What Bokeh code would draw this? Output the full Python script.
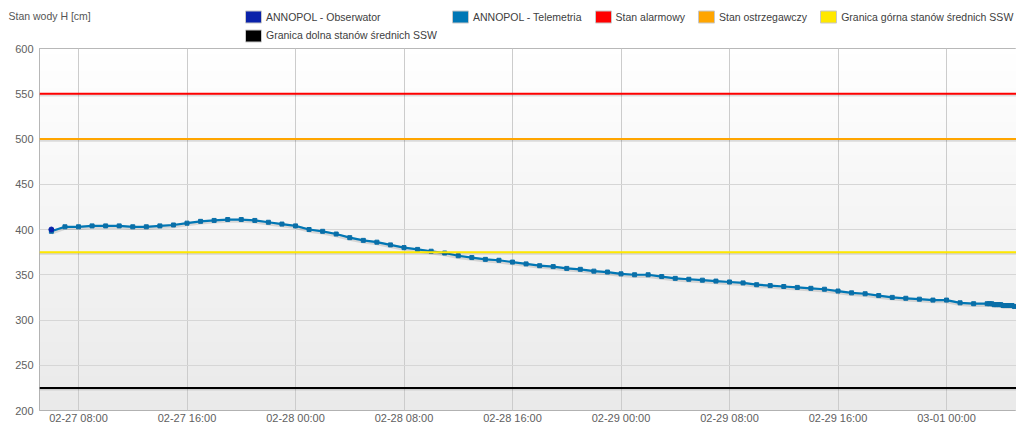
import numpy as np
import pandas as pd
from bokeh.plotting import figure
from bokeh.models import (Range1d, FixedTicker, DatetimeTickFormatter, Legend,
                          LegendItem, Label, Span, ColumnDataSource)
from bokeh.transform import dodge
from bokeh.embed import file_html
from bokeh.resources import INLINE

# ---------------- data ----------------
y_title = "Stan wody H [cm]"

tele_hourly_start = "2024-02-27 06:00"
tele_hourly_vals = [
    398, 403, 403, 404, 404, 404, 403, 403, 404, 405, 407, 409, 410, 411, 411, 410, 408, 406,
    404, 400, 398, 395, 391, 388, 386, 383, 380, 378, 376, 374, 371, 369, 367, 366, 364, 362,
    360, 359, 357, 356, 354, 353,
    351, 350, 350, 348, 346, 345, 344, 343, 342, 341, 339, 338, 337, 336, 335, 334, 332, 330,
    329, 327, 325, 324, 323, 322,
    322, 319, 318, 318,
]
tele_tail_start = "2024-03-01 03:10"
tele_tail_vals = [318, 318, 317, 317, 317, 317, 316, 316, 316, 316, 316, 315]

obs_times = ["2024-02-27 06:00"]
obs_vals = [400]

stan_alarmowy = 550
stan_ostrzegawczy = 500
ssw_gorna = 375
ssw_dolna = 225

series_names = ["ANNOPOL - Obserwator", "ANNOPOL - Telemetria", "Stan alarmowy",
                "Stan ostrzegawczy", "Granica górna stanów średnich SSW",
                "Granica dolna stanów średnich SSW"]
series_colors = ["#0a22aa", "#0077b5", "#ff0000", "#ffa500", "#ffe800", "#000000"]

x_ticks = ["2024-02-27 08:00", "2024-02-27 16:00", "2024-02-28 00:00", "2024-02-28 08:00",
           "2024-02-28 16:00", "2024-02-29 00:00", "2024-02-29 08:00", "2024-02-29 16:00",
           "2024-03-01 00:00"]
y_ticks = [200, 250, 300, 350, 400, 450, 500, 550, 600]

x_start = "2024-02-27 05:07:26"
x_end = "2024-03-01 05:09:40"

# ---------------- build ----------------
FONT = "Liberation Sans"
W = 1016
TOP_H = 43
MAIN_H = 383

tele_t = list(pd.date_range(tele_hourly_start, periods=len(tele_hourly_vals), freq="h")) + \
         list(pd.date_range(tele_tail_start, periods=len(tele_tail_vals), freq="10min"))
tele_v = tele_hourly_vals + tele_tail_vals
tele_src = ColumnDataSource(dict(t=tele_t, v=tele_v))
obs_src = ColumnDataSource(dict(t=pd.to_datetime(obs_times), v=obs_vals))

x0 = pd.Timestamp(x_start)
x1 = pd.Timestamp(x_end)

# ---- header figure: title + legend ----
top = figure(width=W, height=TOP_H, x_range=Range1d(0, 1), y_range=Range1d(0, 1),
             x_axis_location=None, y_axis_location=None, output_backend="svg",
             toolbar_location=None, min_border=0, title=None)
top.outline_line_color = None
top.grid.visible = False
top.background_fill_color = "white"
top.border_fill_color = "white"

sw = []
for c in series_colors:
    # legend-only renderers: one NaN row so that the legend swatch is drawn
    sw.append(top.quad(left=[np.nan], right=[np.nan], top=[np.nan], bottom=[np.nan],
                       fill_color=c, line_color="#c8c8c8", line_width=1))


def mk_legend(idx, loc):
    lg = Legend(items=[LegendItem(label=series_names[i], renderers=[sw[i]]) for i in idx],
                location=loc, orientation="horizontal")
    lg.glyph_width = 20
    lg.glyph_height = 15
    lg.label_height = 14
    lg.label_standoff = 3
    lg.spacing = 11
    lg.padding = 0
    lg.margin = 0
    lg.border_line_color = None
    lg.background_fill_alpha = 0
    lg.label_text_font = FONT
    lg.label_text_font_size = "10.5px"
    lg.label_text_color = "#404040"
    return lg


top.add_layout(mk_legend([0], (243, 18.7)))
top.add_layout(mk_legend([1, 2, 3, 4], (450, 18.7)))
top.add_layout(mk_legend([5], (243, 0.2)))
top.add_layout(Label(x=8, y=TOP_H - 15, x_units="screen", y_units="screen", text=y_title,
                     text_font=FONT, text_font_size="10.5px", text_color="#555555",
                     text_baseline="middle"))

# ---- main chart ----
p = figure(width=W, height=MAIN_H, x_axis_type="datetime",
           x_range=Range1d(x0, x1), y_range=Range1d(y_ticks[0], y_ticks[-1]),
           output_backend="svg", toolbar_location=None,
           min_border_left=39, min_border_right=0, min_border_top=5, min_border_bottom=0)
p.background_fill_color = "white"
p.border_fill_color = "white"
p.outline_line_color = "#a0a0a0"
p.outline_line_width = 1

# plot-area gradient background
n = 64
g = np.linspace(234, 255, n).astype(np.uint32)
rgba = ((255 << 24) | (g << 16) | (g << 8) | g).astype(np.uint32).reshape(n, 1)
p.image_rgba(image=[rgba], x=x0, y=y_ticks[0], dw=(x1 - x0).total_seconds() * 1000,
             dh=y_ticks[-1] - y_ticks[0], level="image")

# grids
p.xgrid.grid_line_color = "#cccccc"
p.ygrid.grid_line_color = "#d6d6d6"
p.xgrid.level = "underlay"
p.ygrid.level = "underlay"

# axes
xticks_ms = [pd.Timestamp(t).value // 10**6 for t in x_ticks]
p.xaxis.ticker = FixedTicker(ticks=xticks_ms)
fmt = "%m-%d %H:%M"
p.xaxis.formatter = DatetimeTickFormatter(microseconds=fmt, milliseconds=fmt, seconds=fmt,
                                          minsec=fmt, minutes=fmt, hourmin=fmt, hours=fmt,
                                          days=fmt, months=fmt, years=fmt)
p.yaxis.ticker = FixedTicker(ticks=y_ticks)
for ax in (p.xaxis[0], p.yaxis[0]):
    ax.axis_line_color = None
    ax.major_tick_line_color = None
    ax.minor_tick_line_color = None
    ax.major_tick_out = 0
    ax.major_tick_in = 0
    ax.minor_tick_out = 0
    ax.major_label_text_font = FONT
    ax.major_label_text_font_size = "11px"
    ax.major_label_text_color = "#606060"
p.yaxis.major_label_standoff = 6
p.xaxis.major_label_standoff = 1

# threshold lines with soft shadow
for val, col in [(stan_alarmowy, series_colors[2]), (stan_ostrzegawczy, series_colors[3]),
                 (ssw_gorna, series_colors[4]), (ssw_dolna, series_colors[5])]:
    p.add_layout(Span(location=val - 1.3, dimension="width", line_color="black",
                      line_alpha=0.12, line_width=3))
    p.add_layout(Span(location=val, dimension="width", line_color=col, line_width=2))

# telemetry line
p.line(x="t", y=dodge("v", -1.3, range=p.y_range), source=tele_src, line_color="black",
       line_alpha=0.12, line_width=4)
p.line(x="t", y="v", source=tele_src, line_color=series_colors[1], line_width=2.2)
p.scatter(x="t", y="v", source=tele_src, marker="square", size=4,
          fill_color="#0a6fa8", line_color="#0a6fa8")
# observer point
p.scatter(x="t", y="v", source=obs_src, marker="circle", size=5,
          fill_color=series_colors[0], line_color=series_colors[0])

open("out.html", "w").write(file_html([top, p], INLINE))
